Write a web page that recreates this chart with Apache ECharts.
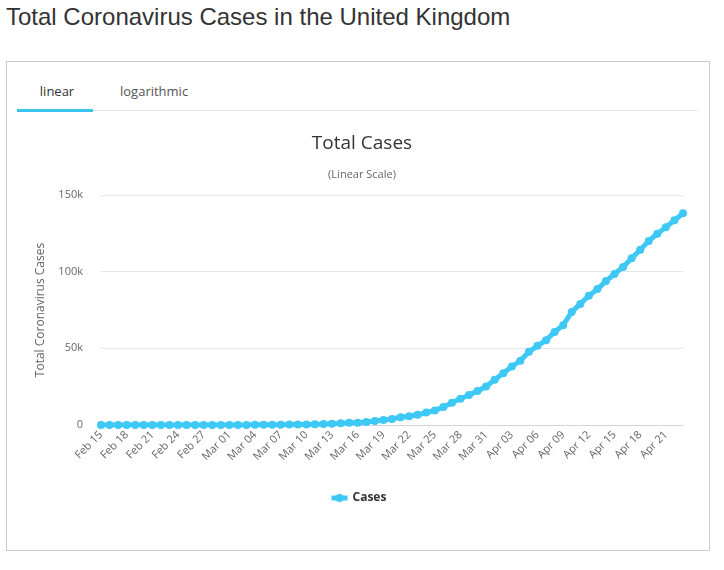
<!DOCTYPE html>
<html>
<head>
<meta charset="utf-8">
<script src="https://cdn.jsdelivr.net/npm/echarts@6/dist/echarts.min.js"></script>
<style>
    body { margin: 0; background: #fff; font-family: "Liberation Sans", Arial, sans-serif; }
    .page-title { position: absolute; left: 6px; top: 3px; font-size: 24px; color: #333; }
    .card { position: absolute; left: 6px; top: 61px; width: 702px; height: 488px; border: 1px solid #ccc; }
    .tabs { position: absolute; left: 10px; top: 17px; width: 681px; height: 31px; border-bottom: 1px solid #e5e5e5; font-family: "Open Sans", sans-serif; font-size: 13px; color: #555; }
    .tab { position: absolute; top: 3px; }
    .tab.active { left: 2px; width: 76px; text-align: center; color: #333; }
    .tab.active:after { content: ""; position: absolute; left: -2px; top: 27px; width: 76px; height: 3px; background: #3cc3ec; }
    #chart { position: absolute; left: 0; top: 0; width: 724px; height: 570px; }
</style>
</head>
<body>
<div class="page-title">Total Coronavirus Cases in the United Kingdom</div>
<div class="card">
    <div class="tabs">
        <span class="tab active">linear</span>
        <span class="tab" style="left:103px">logarithmic</span>
    </div>
</div>
<div id="chart"></div>
<script>
// 日期: Feb 15 - Apr 23
const dates = [
    'Feb 15', 'Feb 16', 'Feb 17', 'Feb 18', 'Feb 19', 'Feb 20', 'Feb 21', 'Feb 22', 'Feb 23', 'Feb 24',
    'Feb 25', 'Feb 26', 'Feb 27', 'Feb 28', 'Feb 29', 'Mar 01', 'Mar 02', 'Mar 03', 'Mar 04', 'Mar 05',
    'Mar 06', 'Mar 07', 'Mar 08', 'Mar 09', 'Mar 10', 'Mar 11', 'Mar 12', 'Mar 13', 'Mar 14', 'Mar 15',
    'Mar 16', 'Mar 17', 'Mar 18', 'Mar 19', 'Mar 20', 'Mar 21', 'Mar 22', 'Mar 23', 'Mar 24', 'Mar 25',
    'Mar 26', 'Mar 27', 'Mar 28', 'Mar 29', 'Mar 30', 'Mar 31', 'Apr 01', 'Apr 02', 'Apr 03', 'Apr 04',
    'Apr 05', 'Apr 06', 'Apr 07', 'Apr 08', 'Apr 09', 'Apr 10', 'Apr 11', 'Apr 12', 'Apr 13', 'Apr 14',
    'Apr 15', 'Apr 16', 'Apr 17', 'Apr 18', 'Apr 19', 'Apr 20', 'Apr 21', 'Apr 22', 'Apr 23'
];

// 累计病例
const cases = [
    9, 9, 9, 9, 9, 9, 9, 9, 9, 13,
    13, 13, 15, 20, 23, 36, 40, 51, 85, 114,
    160, 206, 271, 321, 373, 456, 590, 797, 1061, 1391,
    1543, 1950, 2626, 3269, 3983, 5018, 5683, 6650, 8077, 9529,
    11658, 14543, 17089, 19522, 22141, 25150, 29474, 33718, 38168, 41903,
    47806, 51608, 55242, 60733, 65077, 73758, 78991, 84279, 88621, 93873,
    98476, 103093, 108692, 114217, 120067, 124743, 129044, 133495, 138078
];

const yTicks = [0, 50000, 100000, 150000];

const font = '"Open Sans", "Noto Sans", sans-serif';
const myChart = echarts.init(document.getElementById('chart'));

myChart.setOption({
    animation: false,
    title: {
        text: 'Total Cases',
        subtext: '(Linear Scale)',
        left: 'center',
        top: 129,
        itemGap: 16,
        textStyle: { fontFamily: font, fontSize: 19, fontWeight: 'normal', color: '#333' },
        subtextStyle: { fontFamily: font, fontSize: 11, color: '#666' }
    },
    legend: {
        data: ['Cases'],
        top: 487,
        left: 324,
        itemWidth: 16,
        itemHeight: 10,
        lineStyle: { width: 5 },
        textStyle: { fontFamily: font, fontSize: 12, fontWeight: 'bold', color: '#333' }
    },
    color: ['#3ec8f5'],
    grid: { left: 101, right: 41, top: 195, bottom: 145, containLabel: false },
    xAxis: {
        type: 'category',
        boundaryGap: false,
        data: dates,
        axisLine: { lineStyle: { color: '#ccd6eb' } },
        axisTick: { show: false },
        axisLabel: {
            interval: 2,
            rotate: 45,
            margin: 8,
            fontFamily: font,
            fontSize: 11,
            color: '#666'
        }
    },
    yAxis: {
        type: 'value',
        min: yTicks[0],
        max: yTicks[yTicks.length - 1],
        interval: 50000,
        name: 'Total Coronavirus Cases',
        nameLocation: 'middle',
        nameGap: 54,
        nameTextStyle: { fontFamily: font, fontSize: 12, color: '#666' },
        axisLine: { show: false },
        axisTick: { show: false },
        splitLine: { lineStyle: { color: '#e6e6e6' } },
        axisLabel: {
            margin: 18,
            fontFamily: font,
            fontSize: 11,
            color: '#666',
            formatter: v => v === 0 ? '0' : (v / 1000) + 'k'
        }
    },
    series: [{
        type: 'line',
        name: 'Cases',
        data: cases,
        symbol: 'circle',
        symbolSize: 8,
        showAllSymbol: true,
        lineStyle: { width: 5 }
    }]
});
</script>
</body>
</html>
